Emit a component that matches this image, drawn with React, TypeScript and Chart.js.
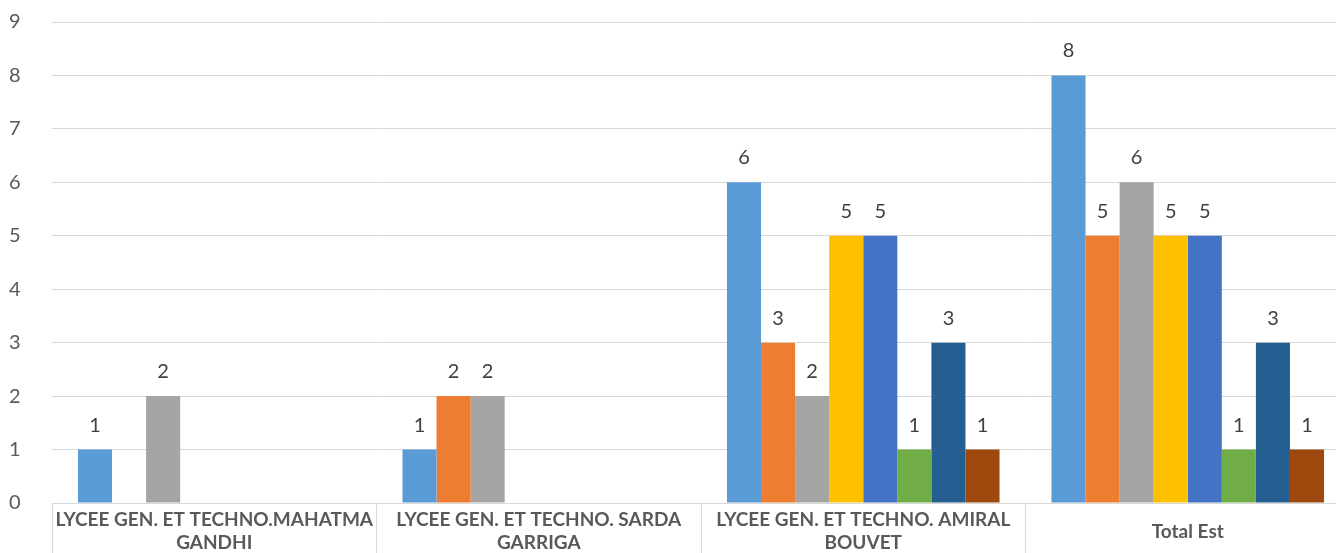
import React, { useEffect, useRef } from "react";
import { Chart, registerables } from "chart.js";

Chart.register(...registerables);

const categories: string[][] = [
  ["LYCEE GEN. ET TECHNO.MAHATMA", "GANDHI"],
  ["LYCEE GEN. ET TECHNO. SARDA", "GARRIGA"],
  ["LYCEE GEN. ET TECHNO. AMIRAL", "BOUVET"],
  ["Total Est"],
];

const seriesNames = ["Série 1", "Série 2", "Série 3", "Série 4", "Série 5", "Série 6", "Série 7", "Série 8"];
const seriesColors = ["#5B9BD5", "#ED7D31", "#A5A5A5", "#FFC000", "#4472C4", "#70AD47", "#255E91", "#9E480E"];

const series1 = [1, 1, 6, 8];
const series2 = [null, 2, 3, 5];
const series3 = [2, 2, 2, 6];
const series4 = [null, null, 5, 5];
const series5 = [null, null, 5, 5];
const series6 = [null, null, 1, 1];
const series7 = [null, null, 3, 3];
const series8 = [null, null, 1, 1];

const allSeries = [series1, series2, series3, series4, series5, series6, series7, series8];

const yTicks = [0, 1, 2, 3, 4, 5, 6, 7, 8, 9];

const valueLabels = {
  id: "valueLabels",
  afterDatasetsDraw(chart: any) {
    const ctx = chart.ctx;
    ctx.save();
    ctx.font = "20px Lato";
    ctx.fillStyle = "#404040";
    ctx.textAlign = "center";
    ctx.textBaseline = "alphabetic";
    chart.data.datasets.forEach((ds: any, i: number) => {
      const meta = chart.getDatasetMeta(i);
      meta.data.forEach((el: any, j: number) => {
        const v = ds.data[j];
        if (v === null || v === undefined) return;
        ctx.fillText(String(v), el.x, el.y - 18);
      });
    });
    ctx.restore();
  },
};

export default function App() {
  const ref = useRef<HTMLCanvasElement | null>(null);
  useEffect(() => {
    if (!ref.current) return;
    const chart = new Chart(ref.current, {
      type: "bar",
      data: {
        labels: categories,
        datasets: allSeries.map((d, i) => ({
          label: seriesNames[i],
          data: d,
          backgroundColor: seriesColors[i],
          borderWidth: 0,
          categoryPercentage: 0.84,
          barPercentage: 1,
        })),
      },
      options: {
        responsive: false,
        animation: false,
        layout: { padding: { top: 22, right: 2, left: 9, bottom: 0 } },
        plugins: {
          legend: { display: false },
          title: { display: false },
          tooltip: { enabled: false },
        },
        scales: {
          x: {
            offset: true,
            grid: {
              display: true,
              offset: true,
              drawOnChartArea: false,
              drawTicks: true,
              tickLength: 60,
              color: "#D9D9D9",
              lineWidth: 1,
            },
            border: { display: true, color: "#D9D9D9", width: 1 },
            ticks: {
              padding: -43,
              crossAlign: "center",
              color: "#595959",
              font: { family: "Lato", size: 19, weight: "bold", lineHeight: 1.2 },
              maxRotation: 0,
              autoSkip: false,
            },
            afterFit(scale: any) {
              scale.height = 50;
            },
          },
          y: {
            min: 0,
            max: 9,
            afterBuildTicks(scale: any) {
              scale.ticks = yTicks.map((v) => ({ value: v }));
            },
            grid: { color: "#D9D9D9", lineWidth: 1, drawTicks: false },
            border: { display: false },
            ticks: {
              padding: 0,
              crossAlign: "far",
              color: "#595959",
              font: { family: "Lato", size: 20 },
            },
            afterFit(scale: any) {
              scale.width = 43;
            },
          },
        },
      },
      plugins: [valueLabels],
    });
    return () => chart.destroy();
  }, []);
  return (
    <div style={{ position: "fixed", left: 0, top: 0, width: 1336, height: 553, overflow: "hidden", background: "#fff" }}>
      <canvas ref={ref} width={1352} height={553} style={{ width: 1352, height: 553, display: "block" }} />
    </div>
  );
}
